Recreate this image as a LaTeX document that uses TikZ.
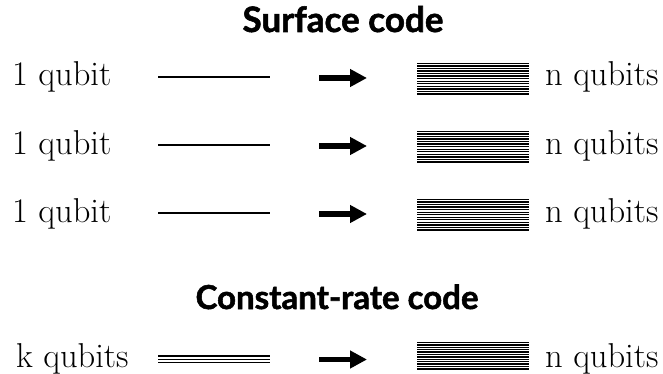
\documentclass[tikz,border=0pt]{standalone}
\usepackage{fontspec}
\usetikzlibrary{arrows.meta}
\newfontfamily\titlefont[BoldFeatures={FakeBold=1.6}]{Lato}
\begin{document}
\begin{tikzpicture}[x=1pt,y=-1pt,
  lbl/.style={font=\fontsize{34.5}{38}\selectfont, inner sep=0pt, anchor=base west},
  ttl/.style={font=\titlefont\bfseries\fontsize{33}{36}\selectfont, inner sep=0pt, anchor=base},
  wire/.style={line width=1.3pt},
  bigarrow/.style={line width=5.5pt, -{Triangle[length=17pt,width=17pt]}}]
\useasboundingbox (0,0) rectangle (663,374);
\node[ttl, font=\titlefont\bfseries\fontsize{35}{38}\selectfont] (t1) at (343,32) {Surface code};
\node[ttl] (t2) at (337,309) {Constant-rate code};
\foreach \y/\n in {78/1,146/2,214/3}{
  \node[lbl] (l\n) at (12,\y+8) {1 qubit};
  \coordinate (wa\n) at (158,\y-1);
  \coordinate (wb\n) at (270,\y-1);
  \draw[wire] (wa\n) -- (wb\n);
  \coordinate (aa\n) at (319,\y);
  \coordinate (ab\n) at (367,\y);
  \draw[bigarrow] (aa\n) -- (ab\n);
  \foreach \k in {0,...,12}{
    \draw[wire] (417,\y-14.6+\k*2.55) -- (529,\y-14.6+\k*2.55);
  }
  \node[lbl] (r\n) at (545,\y+8) {n qubits};
}
\node[lbl] (l4) at (16,367) {k qubits};
\foreach \k in {0,1,2}{
  \draw[wire] (158,356+\k*3.3) -- (270,356+\k*3.3);
}
\coordinate (aa4) at (319,359.5);
\coordinate (ab4) at (367,359.5);
\draw[bigarrow] (aa4) -- (ab4);
\foreach \k in {0,...,11}{
  \draw[wire] (417,342.5+\k*2.4) -- (529,342.5+\k*2.4);
}
\node[lbl] (r4) at (545,367) {n qubits};
\end{tikzpicture}
\end{document}
